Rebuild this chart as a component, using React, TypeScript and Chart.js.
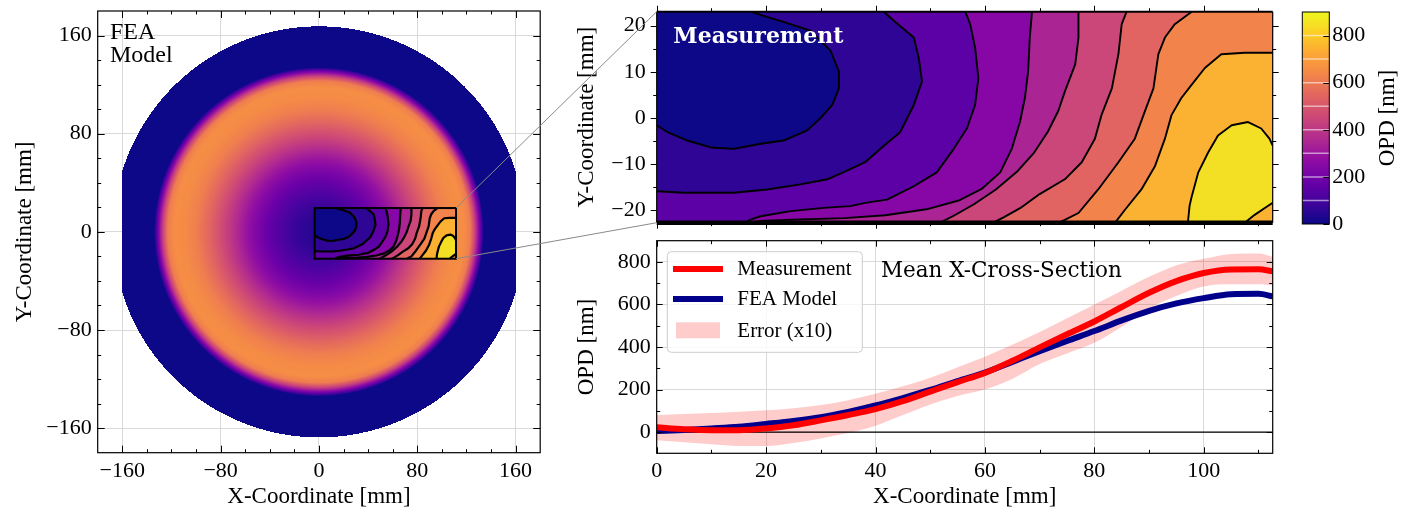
import React, { useEffect, useRef } from 'react';
import { Chart, registerables } from 'chart.js';

Chart.register(...registerables);

// ---------------- Mean X-cross-section (bottom-right panel) ----------------
const crossX = [0, 5, 10, 15, 20, 25, 30, 35, 40, 45, 50, 55, 60, 65, 70, 75, 80, 85, 90, 95, 100, 105, 110, 112.6];
const measurementMean = [22, 13, 9, 9, 17, 32, 55, 80, 108, 145, 190, 235, 278, 335, 398, 460, 520, 588, 655, 710, 748, 765, 766, 756];
const feaModelMean = [5, 10, 17, 25, 38, 52, 70, 95, 125, 160, 198, 240, 280, 330, 380, 428, 475, 525, 570, 605, 630, 648, 650, 638];
const errorUpper = [79, 85, 90, 96, 102, 112, 127, 150, 180, 215, 255, 305, 354, 410, 470, 535, 600, 665, 730, 785, 815, 838, 840, 825];
const errorLower = [-39, -48, -58, -66, -66, -52, -30, -5, 30, 80, 130, 170, 200, 250, 320, 370, 420, 495, 580, 640, 685, 695, 695, 690];
const crossXTicks = [0, 20, 40, 60, 80, 100];
const crossYTicks = [0, 200, 400, 600, 800];
const crossYRange = [-100, 900];
const legendLabels = ['Measurement', 'FEA Model', 'Error (x10)'];

// ---------------- FEA model map (left panel) ----------------
const feaRadius = [0, 10, 20, 30, 40, 50, 60, 70, 80, 90, 100, 110, 118, 123, 127, 131, 134, 168];
const feaRadialOpd = [40, 50, 75, 115, 165, 225, 300, 385, 470, 550, 615, 650, 655, 610, 430, 200, 0, 0];
const feaDiskRadius = 167.5;
const feaClipX = 160;
const mapRange = [-180, 180];
const mapTicks = [-160, -80, 0, 80, 160];
const insetBoxX = [-3.5, 111.5];
const insetBoxY = [-21.9, 19.4];

// ---------------- Measurement contour map (top-right panel) ----------------
const measXRange = [0, 112.6];
const measYRange = [-22.7, 23.0];
const measYTicks = [-20, -10, 0, 10, 20];
const contour1 = [[0, -1.6], [2, -3.1], [5.6, -4.9], [9.9, -6.4], [14.1, -6.7], [19, -5.6], [23.2, -4.9], [27.5, -2.7], [29.9, -0.1], [32.1, 2.8], [33.3, 6.4], [33.3, 10.1], [31.8, 14.5], [28.1, 18.9], [24.5, 20.3], [19, 22.3], [17.2, 23.0]];
const contour2 = [[0, -15.9], [5, -16.2], [14.1, -16.2], [20.2, -15.5], [26.3, -14.4], [31.2, -13.3], [35.4, -11.1], [38.1, -9.6], [40.9, -6.7], [44.5, -3.1], [47, 2.8], [48.5, 7.9], [47.9, 13], [47, 17.4], [43.3, 21.1], [41.5, 23.0]];
const contour3 = [[16.2, -22.7], [17, -22.1], [19, -21.3], [24.5, -20.2], [30.5, -19.5], [35.4, -19.1], [38.1, -18.4], [42.1, -17.7], [47, -14.8], [51.2, -11.8], [54.3, -6.7], [56.7, -2.3], [58.2, 2.8], [58.8, 8.6], [58.2, 15.2], [57.3, 20.3], [56.4, 23.0]];
const contour4 = [[17.5, -22.7], [19, -22.3], [26, -22.0], [34.3, -21.7], [41.8, -21.1], [49.3, -19.8], [55.2, -17.9], [59.5, -15.3], [62.8, -11.8], [64.9, -6.7], [66.4, -0.9], [67.3, 4.3], [67.9, 10.1], [68.2, 17.4], [68.6, 23.0]];
const contour5 = [[51.8, -22.7], [54.3, -21.2], [58, -18.7], [62, -15.5], [66, -11.5], [69, -7.5], [71.5, -3], [73.4, 1.5], [74.6, 5.7], [76.5, 11.6], [77.1, 17.4], [77.1, 23.0]];
const contour6 = [[61.5, -22.7], [63.5, -21.5], [66.5, -19.5], [70, -16.5], [74.6, -13.3], [77.7, -9.6], [80.1, -4.5], [81.3, 0.6], [83.2, 6.4], [84.4, 13.8], [85, 20.3], [85.9, 23.0]];
const contour7 = [[73.5, -22.7], [74.6, -22.1], [77.1, -20.6], [80.7, -15.5], [84.4, -9.6], [87.4, -4.5], [89.2, 1.3], [90.8, 6.4], [91.7, 13.8], [92.9, 17.4], [94.7, 20.3], [97.8, 23.0]];
const contour8 = [[83.8, -22.7], [85.6, -19.9], [88.6, -15.5], [91.1, -10.4], [92.9, -4.5], [94.1, 0.6], [95.9, 4.3], [97.8, 7.2], [100.2, 10.8], [103.2, 13.8], [107.5, 14.1], [112.6, 14.1]];
const contour9a = [[97.1, -22.7], [97.4, -19.1], [97.8, -17], [99, -11.8], [100.8, -7.5], [102.6, -3.8], [105.1, -1.6], [108.1, -0.9], [110.5, -2.3], [112, -4.5], [112.6, -6]];
const contour9b = [[112.6, -18.4], [111.7, -19.1], [109.3, -21], [107.5, -22.7]];
const contourLines = [[contour1], [contour2], [contour3], [contour4], [contour5], [contour6], [contour7], [contour8], [contour9a, contour9b]];
const bandColors = ['#0d0887', '#2e0595', '#5c01a6', '#8707a6', '#ab2494', '#cb4679', '#e16462', '#f2844b', '#fbb131', '#f3e024'];

// ---------------- colour bar ----------------
const cbarRange = [0, 900];
const cbarTicks = [0, 200, 400, 600, 800];
const cbarLevelLines = [100, 200, 300, 400, 500, 600, 700, 800];

// ---------------- styles ----------------
const SERIF = "'Liberation Serif', 'Times New Roman', serif";
const DJV = "'DejaVu Serif', serif";
const PLASMA = ['#0d0887', '#41049d', '#6a00a8', '#8f0da4', '#b12a90', '#cc4778', '#e16462', '#f2844b', '#fca636', '#fcce25', '#f0f921'];
const BOX_A = { left: 0, top: 0, width: 560, height: 515 };
const BOX_B = { left: 560, top: 0, width: 740, height: 235 };
const BOX_C = { left: 560, top: 235, width: 740, height: 280 };
const BOX_D = { left: 1290, top: 0, width: 126, height: 240 };
const TITLE_FONT = `23px ${SERIF}`;

Chart.defaults.font.family = SERIF;
Chart.defaults.color = '#000';

function hexRgb(h: string) {
  const n = parseInt(h.slice(1), 16);
  return [(n >> 16) & 255, (n >> 8) & 255, n & 255];
}
const PLASMA_RGB = PLASMA.map(hexRgb);
function plasma(t: number) {
  const c = Math.max(0, Math.min(1, t)) * (PLASMA_RGB.length - 1);
  const i = Math.min(PLASMA_RGB.length - 2, Math.floor(c));
  const u = c - i;
  const a = PLASMA_RGB[i], b = PLASMA_RGB[i + 1];
  return [a[0] + (b[0] - a[0]) * u, a[1] + (b[1] - a[1]) * u, a[2] + (b[2] - a[2]) * u];
}
function interp(xs: number[], ys: number[], x: number) {
  if (x <= xs[0]) return ys[0];
  for (let i = 1; i < xs.length; i++) {
    if (x <= xs[i]) {
      const u = (x - xs[i - 1]) / (xs[i] - xs[i - 1]);
      return ys[i - 1] + (ys[i] - ys[i - 1]) * u;
    }
  }
  return ys[ys.length - 1];
}
const fmt = (v: number) => (v < 0 ? '\u2212' + Math.abs(v) : String(v));

// ---- contour field helpers ----
function perimT(p: number[]) {
  const [x0, x1] = measXRange, [y0, y1] = measYRange;
  const e = 1e-6;
  if (Math.abs(p[1] - y1) < e) return (p[0] - x0) / (x1 - x0);
  if (Math.abs(p[0] - x1) < e) return 1 + (y1 - p[1]) / (y1 - y0);
  if (Math.abs(p[1] - y0) < e) return 2 + (x1 - p[0]) / (x1 - x0);
  return 3 + (p[1] - y0) / (y1 - y0);
}
function cornersBetween(tA: number, tB: number) {
  const [x0, x1] = measXRange, [y0, y1] = measYRange;
  const corners: any[] = [[0, [x0, y1]], [1, [x1, y1]], [2, [x1, y0]], [3, [x0, y0]]];
  const m = (v: number) => ((v % 4) + 4) % 4;
  const d = m(tB - tA);
  return corners
    .map(([t, p]) => [m(t - tA), p])
    .filter(([dt]) => dt > 0 && dt < d)
    .sort((a, b) => a[0] - b[0])
    .map((c) => c[1]);
}
function regionPolygon(pieces: number[][][]) {
  const out: number[][] = [];
  pieces.forEach((piece, k) => {
    out.push(...piece);
    const next = pieces[(k + 1) % pieces.length];
    out.push(...cornersBetween(perimT(piece[piece.length - 1]), perimT(next[0])));
  });
  return out;
}
function drawField(ctx: CanvasRenderingContext2D, map: (x: number, y: number) => number[], lineWidth: number) {
  const [x0, x1] = measXRange, [y0, y1] = measYRange;
  const path = (pts: number[][], close: boolean) => {
    ctx.beginPath();
    pts.forEach((p, i) => {
      const [px, py] = map(p[0], p[1]);
      if (i) ctx.lineTo(px, py); else ctx.moveTo(px, py);
    });
    if (close) ctx.closePath();
  };
  ctx.save();
  path([[x0, y1], [x1, y1], [x1, y0], [x0, y0]], true);
  ctx.fillStyle = bandColors[0];
  ctx.fill();
  contourLines.forEach((pieces, i) => {
    path(regionPolygon(pieces), true);
    ctx.fillStyle = bandColors[i + 1];
    ctx.fill();
  });
  ctx.strokeStyle = '#000';
  ctx.lineWidth = lineWidth;
  ctx.lineJoin = 'round';
  contourLines.forEach((pieces) => pieces.forEach((piece) => { path(piece, false); ctx.stroke(); }));
  ctx.restore();
}

function drawTicks(chart: any, o: any) {
  const { ctx, chartArea: a, scales } = chart;
  const xs = scales.x, ys = scales.y;
  const d = o.inward ? 1 : -1;
  ctx.save();
  ctx.strokeStyle = '#000';
  ctx.lineWidth = 1;
  ctx.beginPath();
  const addX = (v: number, len: number) => {
    const p = Math.round(xs.getPixelForValue(v)) + 0.5;
    if (o.bottom) { ctx.moveTo(p, a.bottom); ctx.lineTo(p, a.bottom - d * len); }
    if (o.top) { ctx.moveTo(p, a.top); ctx.lineTo(p, a.top + d * len); }
  };
  const addY = (v: number, len: number) => {
    const p = Math.round(ys.getPixelForValue(v)) + 0.5;
    if (o.left) { ctx.moveTo(a.left, p); ctx.lineTo(a.left + d * len, p); }
    if (o.right) { ctx.moveTo(a.right, p); ctx.lineTo(a.right - d * len, p); }
  };
  (o.xMajor || []).forEach((v: number) => addX(v, o.major));
  (o.xMinor || []).forEach((v: number) => addX(v, o.minor));
  (o.yMajor || []).forEach((v: number) => addY(v, o.major));
  (o.yMinor || []).forEach((v: number) => addY(v, o.minor));
  ctx.stroke();
  if (o.frame) {
    ctx.lineWidth = o.frame;
    ctx.strokeStyle = '#000';
    ctx.strokeRect(a.left, a.top, a.right - a.left, a.bottom - a.top);
  }
  ctx.restore();
}

function text(ctx: CanvasRenderingContext2D, s: string, x: number, y: number, font: string, o: any = {}) {
  ctx.save();
  ctx.translate(x, y);
  if (o.rot) ctx.rotate(o.rot);
  ctx.font = font;
  ctx.fillStyle = o.color || '#000';
  ctx.textAlign = o.align || 'center';
  ctx.textBaseline = 'middle';
  ctx.fillText(s, 0, 0);
  ctx.restore();
}

const minorBetween = (lo: number, hi: number, step: number, majors: number[]) => {
  const out: number[] = [];
  for (let v = Math.ceil(lo / step) * step; v <= hi + 1e-9; v += step) {
    if (!majors.includes(v) && v > lo && v < hi) out.push(v);
  }
  return out;
};

const fixedTicks = (vals: number[]) => (s: any) => { s.ticks = vals.map((v) => ({ value: v })); };
const zeroPad = (s: any) => { s.paddingTop = 0; s.paddingBottom = 0; s.paddingLeft = 0; s.paddingRight = 0; };
const fitW = (w: number) => (s: any) => { s.width = w; zeroPad(s); };
const fitH = (h: number) => (s: any) => { s.height = h; zeroPad(s); };
const tickFont = { family: SERIF, size: 22 };
const GRID = '#d9d9d9';

export default function App() {
  const refA = useRef<HTMLCanvasElement>(null);
  const refB = useRef<HTMLCanvasElement>(null);
  const refC = useRef<HTMLCanvasElement>(null);
  const refD = useRef<HTMLCanvasElement>(null);
  const refO = useRef<HTMLCanvasElement>(null);

  useEffect(() => {
    const charts: Chart[] = [];

    // ---------- A: FEA model map ----------
    const heatPlugin = {
      id: 'feaMap',
      beforeDatasetsDraw(chart: any) {
        const { ctx, chartArea: a, scales: { x, y } } = chart;
        const L = Math.floor(a.left), T = Math.floor(a.top);
        const W = Math.ceil(a.right) - L, H = Math.ceil(a.bottom) - T;
        const off = document.createElement('canvas');
        off.width = W; off.height = H;
        const octx = off.getContext('2d') as CanvasRenderingContext2D;
        const img = octx.createImageData(W, H);
        for (let j = 0; j < H; j++) {
          const vy = y.getValueForPixel(T + j + 0.5);
          for (let i = 0; i < W; i++) {
            const vx = x.getValueForPixel(L + i + 0.5);
            if (Math.abs(vx) > feaClipX) continue;
            const r = Math.hypot(vx, vy);
            if (r > feaDiskRadius) continue;
            const v = interp(feaRadius, feaRadialOpd, r);
            const c = plasma((v - cbarRange[0]) / (cbarRange[1] - cbarRange[0]));
            const k = (j * W + i) * 4;
            img.data[k] = c[0]; img.data[k + 1] = c[1]; img.data[k + 2] = c[2]; img.data[k + 3] = 255;
          }
        }
        octx.putImageData(img, 0, 0);
        ctx.drawImage(off, L, T);
      },
      afterDraw(chart: any) {
        const { ctx, chartArea: a, scales: { x, y } } = chart;
        const map = (mx: number, my: number) => [
          x.getPixelForValue(insetBoxX[0] + ((mx - measXRange[0]) / (measXRange[1] - measXRange[0])) * (insetBoxX[1] - insetBoxX[0])),
          y.getPixelForValue(insetBoxY[0] + ((my - measYRange[0]) / (measYRange[1] - measYRange[0])) * (insetBoxY[1] - insetBoxY[0])),
        ];
        drawField(ctx, map, 2.2);
        const [ix0, iy1] = map(measXRange[0], measYRange[1]);
        const [ix1, iy0] = map(measXRange[1], measYRange[0]);
        ctx.save();
        ctx.lineWidth = 2;
        ctx.strokeStyle = '#000';
        ctx.strokeRect(ix0, iy1, ix1 - ix0, iy0 - iy1);
        ctx.restore();
        const minors = minorBetween(mapRange[0], mapRange[1], 20, mapTicks);
        drawTicks(chart, { inward: true, top: true, bottom: true, left: true, right: true, xMajor: mapTicks, xMinor: minors, yMajor: mapTicks, yMinor: minors, major: 7, minor: 3.5, frame: 1.2 });
        text(ctx, 'FEA', 110, 33, `24px ${SERIF}`, { align: 'left' });
        text(ctx, 'Model', 110, 56, `24px ${SERIF}`, { align: 'left' });
        text(ctx, 'X-Coordinate [mm]', (a.left + a.right) / 2, 496.7, TITLE_FONT);
        text(ctx, 'Y-Coordinate [mm]', 25, (a.top + a.bottom) / 2, TITLE_FONT, { rot: -Math.PI / 2 });
      },
    };
    const chartA = new Chart(refA.current as HTMLCanvasElement, {
      type: 'scatter',
      data: { datasets: [] },
      options: {
        responsive: false, animation: false, devicePixelRatio: 1,
        layout: { padding: { top: 11, right: 19.8, left: 0, bottom: 0 } },
        plugins: { legend: { display: false }, tooltip: { enabled: false } },
        scales: {
          x: {
            type: 'linear', min: mapRange[0], max: mapRange[1],
            afterBuildTicks: fixedTicks(mapTicks), afterFit: fitH(62.3),
            grid: { color: GRID, drawTicks: false }, border: { display: false },
            ticks: { font: tickFont, padding: 5, maxRotation: 0, autoSkip: false, callback: (v: any) => fmt(v) },
          },
          y: {
            type: 'linear', min: mapRange[0], max: mapRange[1],
            afterBuildTicks: fixedTicks(mapTicks), afterFit: fitW(97.7),
            grid: { color: GRID, drawTicks: false }, border: { display: false },
            ticks: { font: tickFont, padding: 6, autoSkip: false, callback: (v: any) => fmt(v) },
          },
        },
      },
      plugins: [heatPlugin],
    } as any);
    charts.push(chartA);

    // ---------- B: measurement contour map ----------
    const measPlugin = {
      id: 'measMap',
      beforeDatasetsDraw(chart: any) {
        const { ctx, chartArea: a, scales: { x, y } } = chart;
        ctx.save();
        ctx.beginPath();
        ctx.rect(a.left, a.top, a.right - a.left, a.bottom - a.top);
        ctx.clip();
        drawField(ctx, (mx: number, my: number) => [x.getPixelForValue(mx), y.getPixelForValue(my)], 1.9);
        ctx.restore();
        text(ctx, 'Measurement', a.left + 16.6, 37, `bold 22px ${DJV}`, { align: 'left', color: '#ffffff' });
      },
      afterDraw(chart: any) {
        const { ctx, chartArea: a } = chart;
        const xMinor = minorBetween(measXRange[0], measXRange[1], 10, crossXTicks);
        const yMinor = minorBetween(measYRange[0], measYRange[1], 5, measYTicks);
        drawTicks(chart, { inward: false, top: true, bottom: true, left: true, right: true, xMajor: crossXTicks, xMinor, yMajor: measYTicks, yMinor, major: 6, minor: 3.5, frame: 0 });
        ctx.save();
        ctx.strokeStyle = '#000';
        ctx.lineWidth = 1.2;
        ctx.beginPath();
        ctx.moveTo(a.left, a.top); ctx.lineTo(a.left, a.bottom);
        ctx.moveTo(a.right, a.top); ctx.lineTo(a.right, a.bottom);
        ctx.stroke();
        ctx.lineWidth = 2;
        ctx.beginPath(); ctx.moveTo(a.left, a.top); ctx.lineTo(a.right, a.top); ctx.stroke();
        ctx.lineWidth = 4.5;
        ctx.beginPath(); ctx.moveTo(a.left, a.bottom); ctx.lineTo(a.right, a.bottom); ctx.stroke();
        ctx.restore();
        text(ctx, 'Y-Coordinate [mm]', 27, (a.top + a.bottom) / 2, TITLE_FONT, { rot: -Math.PI / 2 });
      },
    };
    const chartB = new Chart(refB.current as HTMLCanvasElement, {
      type: 'scatter',
      data: { datasets: [] },
      options: {
        responsive: false, animation: false, devicePixelRatio: 1,
        layout: { padding: { top: 11.7, right: 27.3, left: 0, bottom: 0 } },
        plugins: { legend: { display: false }, tooltip: { enabled: false } },
        scales: {
          x: {
            type: 'linear', min: measXRange[0], max: measXRange[1],
            afterBuildTicks: fixedTicks(crossXTicks), afterFit: fitH(12.3),
            grid: { display: false, drawTicks: false }, border: { display: false },
            ticks: { display: false },
          },
          y: {
            type: 'linear', min: measYRange[0], max: measYRange[1],
            afterBuildTicks: fixedTicks(measYTicks), afterFit: fitW(96.7),
            grid: { display: false, drawTicks: false }, border: { display: false },
            ticks: { font: tickFont, padding: 11, autoSkip: false, callback: (v: any) => fmt(v) },
          },
        },
      },
      plugins: [measPlugin],
    } as any);
    charts.push(chartB);

    // ---------- C: mean cross-section ----------
    const pts = (ys: number[]) => crossX.map((x, i) => ({ x, y: ys[i] }));
    const crossPlugin = {
      id: 'crossDeco',
      afterDraw(chart: any) {
        const { ctx, chartArea: a } = chart;
        const xMinor = minorBetween(measXRange[0], measXRange[1], 10, crossXTicks);
        const yMinor = minorBetween(crossYRange[0], crossYRange[1], 100, crossYTicks);
        drawTicks(chart, { inward: true, top: true, bottom: true, left: true, right: true, xMajor: crossXTicks, xMinor, yMajor: crossYTicks, yMinor, major: 6, minor: 3.5, frame: 1.2 });
        // legend
        ctx.save();
        const lx = 107.3, ly = 16.7, lw = 195, lh = 100.6, r = 4;
        ctx.beginPath();
        ctx.moveTo(lx + r, ly);
        ctx.arcTo(lx + lw, ly, lx + lw, ly + lh, r);
        ctx.arcTo(lx + lw, ly + lh, lx, ly + lh, r);
        ctx.arcTo(lx, ly + lh, lx, ly, r);
        ctx.arcTo(lx, ly, lx + lw, ly, r);
        ctx.closePath();
        ctx.fillStyle = 'rgba(255,255,255,0.8)';
        ctx.fill();
        ctx.strokeStyle = '#cccccc';
        ctx.lineWidth = 1;
        ctx.stroke();
        ctx.lineCap = 'butt';
        ctx.lineWidth = 6;
        ctx.strokeStyle = '#ff0000';
        ctx.beginPath(); ctx.moveTo(113, 34); ctx.lineTo(163, 34); ctx.stroke();
        ctx.strokeStyle = '#00008b';
        ctx.beginPath(); ctx.moveTo(113, 64); ctx.lineTo(163, 64); ctx.stroke();
        ctx.fillStyle = 'rgba(255,0,0,0.2)';
        ctx.fillRect(116, 87.3, 44, 16);
        ctx.restore();
        text(ctx, legendLabels[0], 177.3, 34.3, `21px ${SERIF}`, { align: 'left' });
        text(ctx, legendLabels[1], 177.3, 64.3, `21px ${SERIF}`, { align: 'left' });
        text(ctx, legendLabels[2], 177.3, 96.2, `21px ${SERIF}`, { align: 'left' });
        text(ctx, 'Mean X-Cross-Section', 321, 36.7, `21.5px ${DJV}`, { align: 'left' });
        text(ctx, 'X-Coordinate [mm]', (a.left + a.right) / 2, 261.7, TITLE_FONT);
        text(ctx, 'OPD [nm]', 27, (a.top + a.bottom) / 2, TITLE_FONT, { rot: -Math.PI / 2 });
      },
    };
    const chartC = new Chart(refC.current as HTMLCanvasElement, {
      type: 'line',
      data: {
        datasets: [
          { label: 'errU', data: pts(errorUpper), borderWidth: 0, borderColor: 'transparent', pointRadius: 0, fill: '+1', backgroundColor: 'rgba(255,0,0,0.2)', cubicInterpolationMode: 'monotone', order: 5 },
          { label: 'errL', data: pts(errorLower), borderWidth: 0, borderColor: 'transparent', pointRadius: 0, fill: false, cubicInterpolationMode: 'monotone', order: 5 },
          { label: 'zero', data: [{ x: crossX[0], y: 0 }, { x: crossX[crossX.length - 1], y: 0 }], borderColor: '#000', borderWidth: 1.2, pointRadius: 0, fill: false, order: 3 },
          { label: 'FEA Model', data: pts(feaModelMean), borderColor: '#00008b', borderWidth: 6, pointRadius: 0, fill: false, cubicInterpolationMode: 'monotone', order: 1 },
          { label: 'Measurement', data: pts(measurementMean), borderColor: '#ff0000', borderWidth: 6, pointRadius: 0, fill: false, cubicInterpolationMode: 'monotone', order: 0 },
        ],
      },
      options: {
        responsive: false, animation: false, devicePixelRatio: 1,
        layout: { padding: { top: 5.7, right: 27.3, left: 0, bottom: 0 } },
        plugins: { legend: { display: false }, tooltip: { enabled: false } },
        scales: {
          x: {
            type: 'linear', min: measXRange[0], max: measXRange[1],
            afterBuildTicks: fixedTicks(crossXTicks), afterFit: fitH(61.7),
            grid: { color: GRID, drawTicks: false }, border: { display: false },
            ticks: { font: tickFont, padding: 5, maxRotation: 0, autoSkip: false, callback: (v: any) => fmt(v) },
          },
          y: {
            type: 'linear', min: crossYRange[0], max: crossYRange[1],
            afterBuildTicks: fixedTicks(crossYTicks), afterFit: fitW(96.7),
            grid: { color: GRID, drawTicks: false }, border: { display: false },
            ticks: { font: tickFont, padding: 6, autoSkip: false, callback: (v: any) => fmt(v) },
          },
        },
      },
      plugins: [crossPlugin],
    } as any);
    charts.push(chartC);

    // ---------- D: colour bar ----------
    const cbarPlugin = {
      id: 'cbar',
      beforeDatasetsDraw(chart: any) {
        const { ctx, chartArea: a, scales: { y } } = chart;
        ctx.save();
        for (let py = Math.floor(a.top); py < Math.ceil(a.bottom); py++) {
          const v = y.getValueForPixel(py + 0.5);
          const c = plasma((v - cbarRange[0]) / (cbarRange[1] - cbarRange[0]));
          ctx.fillStyle = `rgb(${c[0] | 0},${c[1] | 0},${c[2] | 0})`;
          ctx.fillRect(a.left, py, a.right - a.left, 1);
        }
        ctx.strokeStyle = 'rgba(255,255,255,0.55)';
        ctx.lineWidth = 1.5;
        ctx.beginPath();
        cbarLevelLines.forEach((v) => {
          const p = y.getPixelForValue(v);
          ctx.moveTo(a.left, p); ctx.lineTo(a.right, p);
        });
        ctx.stroke();
        ctx.restore();
      },
      afterDraw(chart: any) {
        const { ctx, chartArea: a } = chart;
        drawTicks(chart, { inward: true, right: true, yMajor: cbarTicks, major: 6, minor: 3, frame: 1 });
        text(ctx, 'OPD [nm]', 98, (a.top + a.bottom) / 2, TITLE_FONT, { rot: -Math.PI / 2 });
      },
    };
    const chartD = new Chart(refD.current as HTMLCanvasElement, {
      type: 'scatter',
      data: { datasets: [] },
      options: {
        responsive: false, animation: false, devicePixelRatio: 1,
        layout: { padding: { top: 12, left: 12.3, bottom: 16, right: 0 } },
        plugins: { legend: { display: false }, tooltip: { enabled: false } },
        scales: {
          x: { type: 'linear', display: false, min: 0, max: 1 },
          y: {
            type: 'linear', position: 'right', min: cbarRange[0], max: cbarRange[1],
            afterBuildTicks: fixedTicks(cbarTicks), afterFit: fitW(86.7),
            grid: { display: false, drawTicks: false }, border: { display: false },
            ticks: { font: tickFont, padding: 3, autoSkip: false, callback: (v: any) => fmt(v) },
          },
        },
      },
      plugins: [cbarPlugin],
    } as any);
    charts.push(chartD);

    // ---------- overlay: connector lines ----------
    const ov = refO.current as HTMLCanvasElement;
    const octx = ov.getContext('2d') as CanvasRenderingContext2D;
    octx.clearRect(0, 0, ov.width, ov.height);
    const ax: any = chartA.scales.x, ay: any = chartA.scales.y;
    const bA: any = chartB.chartArea;
    const p1 = [ax.getPixelForValue(insetBoxX[1]) + BOX_A.left, ay.getPixelForValue(insetBoxY[1]) + BOX_A.top];
    const p2 = [ax.getPixelForValue(insetBoxX[1]) + BOX_A.left, ay.getPixelForValue(insetBoxY[0]) + BOX_A.top];
    const q1 = [bA.left + BOX_B.left, bA.top + BOX_B.top];
    const q2 = [bA.left + BOX_B.left, bA.bottom + BOX_B.top];
    octx.strokeStyle = '#8a8a8a';
    octx.lineWidth = 1;
    octx.beginPath();
    octx.moveTo(p1[0], p1[1]); octx.lineTo(q1[0], q1[1]);
    octx.moveTo(p2[0], p2[1]); octx.lineTo(q2[0], q2[1]);
    octx.stroke();

    return () => {
      charts.forEach((c) => c.destroy());
      octx.clearRect(0, 0, ov.width, ov.height);
    };
  }, []);

  const cv = (ref: any, b: any, extra: any = {}) => (
    <canvas ref={ref} width={b.width} height={b.height}
      style={{ position: 'absolute', left: b.left, top: b.top, width: b.width, height: b.height, display: 'block', ...extra }} />
  );

  return (
    <div style={{ position: 'fixed', left: 0, top: 0, width: 1416, height: 515, background: '#ffffff', overflow: 'hidden' }}>
      {cv(refA, BOX_A)}
      {cv(refB, BOX_B)}
      {cv(refC, BOX_C)}
      {cv(refD, BOX_D)}
      {cv(refO, { left: 0, top: 0, width: 1416, height: 515 }, { pointerEvents: 'none' })}
    </div>
  );
}
